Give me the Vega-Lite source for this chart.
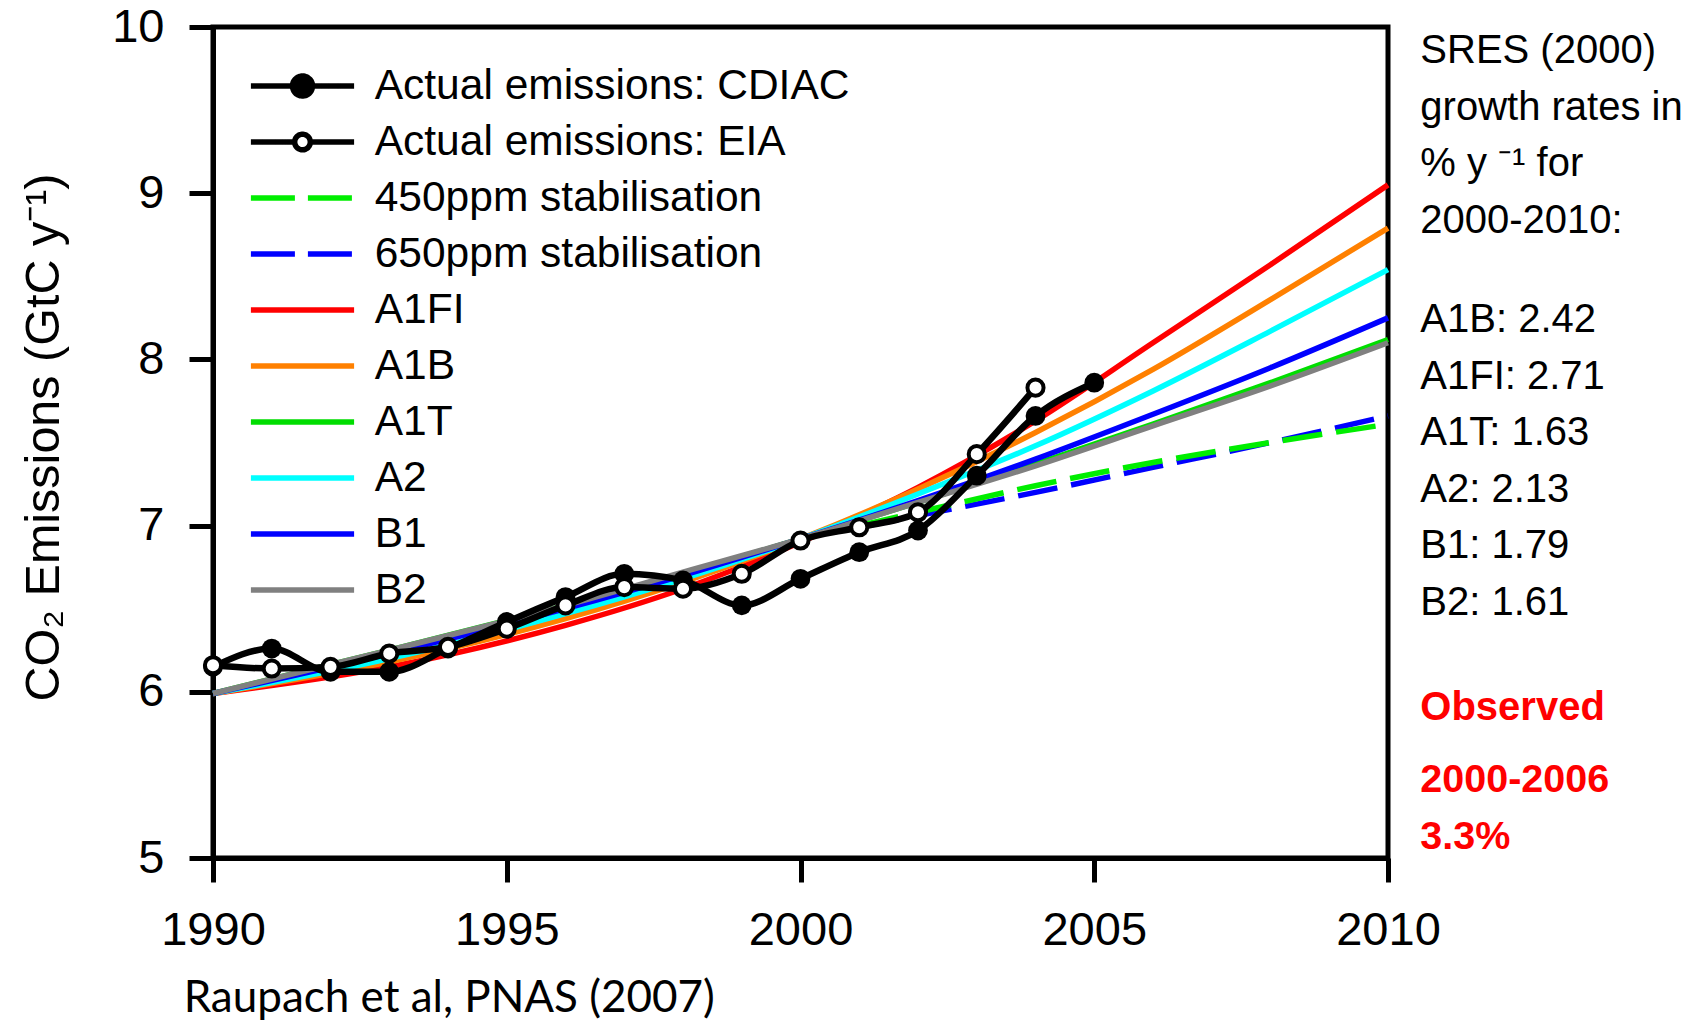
{
  "$schema": "https://vega.github.io/schema/vega-lite/v6.json",
  "autosize": {"type": "none"},
  "padding": {"left": 213, "top": 27, "right": 305, "bottom": 162},
  "width": 1175,
  "height": 831,
  "background": "white",
  "config": {
    "view": {"stroke": "black", "strokeWidth": 5},
    "font": "Liberation Sans",
    "axis": {
      "domainColor": "black", "domainWidth": 5, "tickColor": "black", "tickWidth": 5, "tickSize": 24,
      "labelColor": "black", "labelFont": "Liberation Sans", "labelFontSize": 47, "grid": false,
      "titleFont": "Liberation Sans", "titleColor": "black", "titleFontWeight": "normal", "titleFontSize": 48.5
    },
    "legend": {
      "orient": "none", "legendX": 35, "legendY": 36, "padding": 0,
      "labelFont": "Liberation Sans", "labelFontSize": 42.5, "labelColor": "black", "labelLimit": 1000,
      "symbolSize": 1600, "symbolStrokeWidth": 5.5, "symbolOffset": 31.5, "labelOffset": 49.2, "rowPadding": 11
    }
  },
  "datasets": {
    "series": [
      {"s": "A1FI", "x": 1990, "y": 5.99}, {"s": "A1FI", "x": 1993, "y": 6.15}, {"s": "A1FI", "x": 1996, "y": 6.40}, {"s": "A1FI", "x": 1998, "y": 6.62}, {"s": "A1FI", "x": 2000, "y": 6.90}, {"s": "A1FI", "x": 2002, "y": 7.23}, {"s": "A1FI", "x": 2004, "y": 7.63}, {"s": "A1FI", "x": 2006, "y": 8.10}, {"s": "A1FI", "x": 2008, "y": 8.57}, {"s": "A1FI", "x": 2010, "y": 9.05},
      {"s": "A1B", "x": 1990, "y": 5.99}, {"s": "A1B", "x": 1993, "y": 6.18}, {"s": "A1B", "x": 1996, "y": 6.44}, {"s": "A1B", "x": 1998, "y": 6.66}, {"s": "A1B", "x": 2000, "y": 6.92}, {"s": "A1B", "x": 2002, "y": 7.22}, {"s": "A1B", "x": 2004, "y": 7.56}, {"s": "A1B", "x": 2006, "y": 7.94}, {"s": "A1B", "x": 2008, "y": 8.36}, {"s": "A1B", "x": 2010, "y": 8.79},
      {"s": "A1T", "x": 1990, "y": 5.99}, {"s": "A1T", "x": 1993, "y": 6.25}, {"s": "A1T", "x": 1996, "y": 6.52}, {"s": "A1T", "x": 1998, "y": 6.71}, {"s": "A1T", "x": 2000, "y": 6.92}, {"s": "A1T", "x": 2002, "y": 7.14}, {"s": "A1T", "x": 2004, "y": 7.37}, {"s": "A1T", "x": 2006, "y": 7.61}, {"s": "A1T", "x": 2008, "y": 7.86}, {"s": "A1T", "x": 2010, "y": 8.12},
      {"s": "A2", "x": 1990, "y": 5.99}, {"s": "A2", "x": 1993, "y": 6.20}, {"s": "A2", "x": 1996, "y": 6.47}, {"s": "A2", "x": 1998, "y": 6.68}, {"s": "A2", "x": 2000, "y": 6.92}, {"s": "A2", "x": 2002, "y": 7.19}, {"s": "A2", "x": 2004, "y": 7.48}, {"s": "A2", "x": 2006, "y": 7.81}, {"s": "A2", "x": 2008, "y": 8.17}, {"s": "A2", "x": 2010, "y": 8.54},
      {"s": "B1", "x": 1990, "y": 5.99}, {"s": "B1", "x": 1993, "y": 6.23}, {"s": "B1", "x": 1996, "y": 6.50}, {"s": "B1", "x": 1998, "y": 6.70}, {"s": "B1", "x": 2000, "y": 6.92}, {"s": "B1", "x": 2002, "y": 7.15}, {"s": "B1", "x": 2004, "y": 7.40}, {"s": "B1", "x": 2006, "y": 7.67}, {"s": "B1", "x": 2008, "y": 7.95}, {"s": "B1", "x": 2010, "y": 8.25},
      {"s": "B2", "x": 1990, "y": 5.99}, {"s": "B2", "x": 1993, "y": 6.25}, {"s": "B2", "x": 1996, "y": 6.52}, {"s": "B2", "x": 1998, "y": 6.72}, {"s": "B2", "x": 2000, "y": 6.92}, {"s": "B2", "x": 2002, "y": 7.14}, {"s": "B2", "x": 2004, "y": 7.36}, {"s": "B2", "x": 2006, "y": 7.60}, {"s": "B2", "x": 2008, "y": 7.84}, {"s": "B2", "x": 2010, "y": 8.10},
      {"s": "650ppm stabilisation", "x": 2001, "y": 6.99}, {"s": "650ppm stabilisation", "x": 2002, "y": 7.06}, {"s": "650ppm stabilisation", "x": 2004, "y": 7.20}, {"s": "650ppm stabilisation", "x": 2006, "y": 7.35}, {"s": "650ppm stabilisation", "x": 2008, "y": 7.50}, {"s": "650ppm stabilisation", "x": 2010, "y": 7.66},
      {"s": "450ppm stabilisation", "x": 2001, "y": 7.00}, {"s": "450ppm stabilisation", "x": 2002, "y": 7.08}, {"s": "450ppm stabilisation", "x": 2004, "y": 7.24}, {"s": "450ppm stabilisation", "x": 2006, "y": 7.38}, {"s": "450ppm stabilisation", "x": 2008, "y": 7.50}, {"s": "450ppm stabilisation", "x": 2010, "y": 7.61},
      {"s": "Actual emissions: CDIAC", "x": 1990, "y": 6.15}, {"s": "Actual emissions: CDIAC", "x": 1991, "y": 6.26}, {"s": "Actual emissions: CDIAC", "x": 1992, "y": 6.12}, {"s": "Actual emissions: CDIAC", "x": 1993, "y": 6.12}, {"s": "Actual emissions: CDIAC", "x": 1994, "y": 6.26}, {"s": "Actual emissions: CDIAC", "x": 1995, "y": 6.42}, {"s": "Actual emissions: CDIAC", "x": 1996, "y": 6.57}, {"s": "Actual emissions: CDIAC", "x": 1997, "y": 6.71}, {"s": "Actual emissions: CDIAC", "x": 1998, "y": 6.67}, {"s": "Actual emissions: CDIAC", "x": 1999, "y": 6.52}, {"s": "Actual emissions: CDIAC", "x": 2000, "y": 6.68}, {"s": "Actual emissions: CDIAC", "x": 2001, "y": 6.84}, {"s": "Actual emissions: CDIAC", "x": 2002, "y": 6.97}, {"s": "Actual emissions: CDIAC", "x": 2003, "y": 7.30}, {"s": "Actual emissions: CDIAC", "x": 2004, "y": 7.66}, {"s": "Actual emissions: CDIAC", "x": 2005, "y": 7.86},
      {"s": "Actual emissions: EIA", "x": 1990, "y": 6.16}, {"s": "Actual emissions: EIA", "x": 1991, "y": 6.14}, {"s": "Actual emissions: EIA", "x": 1992, "y": 6.15}, {"s": "Actual emissions: EIA", "x": 1993, "y": 6.23}, {"s": "Actual emissions: EIA", "x": 1994, "y": 6.27}, {"s": "Actual emissions: EIA", "x": 1995, "y": 6.38}, {"s": "Actual emissions: EIA", "x": 1996, "y": 6.52}, {"s": "Actual emissions: EIA", "x": 1997, "y": 6.63}, {"s": "Actual emissions: EIA", "x": 1998, "y": 6.62}, {"s": "Actual emissions: EIA", "x": 1999, "y": 6.71}, {"s": "Actual emissions: EIA", "x": 2000, "y": 6.91}, {"s": "Actual emissions: EIA", "x": 2001, "y": 6.99}, {"s": "Actual emissions: EIA", "x": 2002, "y": 7.08}, {"s": "Actual emissions: EIA", "x": 2003, "y": 7.43}, {"s": "Actual emissions: EIA", "x": 2004, "y": 7.83}
    ]
  },
  "layer": [
    {
      "data": {"name": "series"},
      "transform": [{"filter": {"field": "s", "oneOf": ["A1FI", "A1B", "A1T", "A2", "B1", "B2"]}}],
      "mark": {"type": "line", "strokeWidth": 5.5, "interpolate": "monotone"},
      "encoding": {
        "x": {"field": "x", "type": "quantitative", "scale": {"domain": [1990, 2010], "nice": false, "zero": false},
              "axis": {"values": [1990, 1995, 2000, 2005, 2010], "format": "d", "title": null, "labelPadding": 25, "labelFlush": false, "labelOverlap": false}},
        "y": {"field": "y", "type": "quantitative", "scale": {"domain": [5, 10], "nice": false, "zero": false},
              "axis": {"values": [5, 6, 7, 8, 9, 10], "format": "d", "title": "CO₂ Emissions (GtC y⁻¹)", "titleX": -170, "titleY": 410, "titleAngle": -90, "titleAlign": "center", "titleBaseline": "middle", "labelPadding": 25, "labelFlush": false, "labelOverlap": false}},
        "color": {"field": "s", "type": "nominal",
          "scale": {"domain": ["Actual emissions: CDIAC", "Actual emissions: EIA", "450ppm stabilisation", "650ppm stabilisation", "A1FI", "A1B", "A1T", "A2", "B1", "B2"],
                    "range": ["#000000", "#000000", "#00EE00", "#0000FF", "#FF0000", "#FF8000", "#00DD00", "#00FFFF", "#0000FF", "#808080"]},
          "legend": {"title": null,
            "encode": {"symbols": {"update": {
              "shape": {"signal": "datum.value === 'Actual emissions: CDIAC' ? 'M-2.58,0H2.58M0.5,0A0.5,0.5,0,1,1,-0.5,0A0.5,0.5,0,1,1,0.5,0' : datum.value === 'Actual emissions: EIA' ? 'M-2.58,0H-0.39M0.39,0H2.58M0.39,0A0.39,0.39,0,1,1,-0.39,0A0.39,0.39,0,1,1,0.39,0' : 'M-2.58,0H2.58'"},
              "fill": {"signal": "datum.value === 'Actual emissions: CDIAC' ? '#000000' : datum.value === 'Actual emissions: EIA' ? '#ffffff' : 'transparent'"},
              "strokeDash": {"signal": "indexof(datum.value, 'ppm') >= 0 ? [44, 13] : [1, 0]"},
              "strokeWidth": {"value": 5.5}
            }}}
          }
        }
      }
    },
    {
      "data": {"name": "series"},
      "transform": [{"filter": {"field": "s", "oneOf": ["650ppm stabilisation", "450ppm stabilisation"]}}],
      "mark": {"type": "line", "strokeWidth": 5.5, "strokeDash": [40, 14], "interpolate": "monotone"},
      "encoding": {
        "x": {"field": "x", "type": "quantitative", "scale": {"domain": [1990, 2010]}},
        "y": {"field": "y", "type": "quantitative", "scale": {"domain": [5, 10]}},
        "color": {"field": "s", "type": "nominal"}
      }
    },
    {
      "data": {"name": "series"},
      "transform": [{"filter": {"field": "s", "oneOf": ["Actual emissions: CDIAC", "Actual emissions: EIA"]}}],
      "mark": {"type": "line", "strokeWidth": 6.5, "interpolate": "monotone"},
      "encoding": {
        "x": {"field": "x", "type": "quantitative", "scale": {"domain": [1990, 2010]}},
        "y": {"field": "y", "type": "quantitative", "scale": {"domain": [5, 10]}},
        "color": {"field": "s", "type": "nominal"}
      }
    },
    {
      "data": {"name": "series"},
      "transform": [{"filter": {"field": "s", "equal": "Actual emissions: CDIAC"}}],
      "mark": {"type": "point", "shape": "circle", "filled": true, "fill": "#000000", "stroke": "#000000", "strokeWidth": 0, "size": 390, "opacity": 1},
      "encoding": {
        "x": {"field": "x", "type": "quantitative", "scale": {"domain": [1990, 2010]}},
        "y": {"field": "y", "type": "quantitative", "scale": {"domain": [5, 10]}}
      }
    },
    {
      "data": {"name": "series"},
      "transform": [{"filter": {"field": "s", "equal": "Actual emissions: EIA"}}],
      "mark": {"type": "point", "shape": "circle", "filled": false, "fill": "#ffffff", "stroke": "#000000", "strokeWidth": 4, "size": 260, "opacity": 1, "fillOpacity": 1},
      "encoding": {
        "x": {"field": "x", "type": "quantitative", "scale": {"domain": [1990, 2010]}},
        "y": {"field": "y", "type": "quantitative", "scale": {"domain": [5, 10]}}
      }
    },
    {
      "data": {"values": [{}]},
      "mark": {"type": "text", "text": ["SRES (2000)", "growth rates in", "% y ⁻¹ for", "2000-2010:"], "align": "left", "baseline": "alphabetic", "font": "Liberation Sans", "fontSize": 40, "lineHeight": 56.6, "color": "#000000"},
      "encoding": {
        "x": {"datum": 2010.55, "type": "quantitative", "scale": {"domain": [1990, 2010]}},
        "y": {"datum": 9.783, "type": "quantitative", "scale": {"domain": [5, 10]}}
      }
    },
    {
      "data": {"values": [{}]},
      "mark": {"type": "text", "text": ["A1B: 2.42", "A1FI: 2.71", "A1T: 1.63", "A2: 2.13", "B1: 1.79", "B2: 1.61"], "align": "left", "baseline": "alphabetic", "font": "Liberation Sans", "fontSize": 40, "lineHeight": 56.5, "color": "#000000"},
      "encoding": {
        "x": {"datum": 2010.55, "type": "quantitative", "scale": {"domain": [1990, 2010]}},
        "y": {"datum": 8.162, "type": "quantitative", "scale": {"domain": [5, 10]}}
      }
    },
    {
      "data": {"values": [{}]},
      "mark": {"type": "text", "text": "Observed", "align": "left", "baseline": "alphabetic", "font": "Liberation Sans", "fontWeight": "bold", "fontSize": 40, "color": "#FF0000"},
      "encoding": {
        "x": {"datum": 2010.55, "type": "quantitative", "scale": {"domain": [1990, 2010]}},
        "y": {"datum": 5.83, "type": "quantitative", "scale": {"domain": [5, 10]}}
      }
    },
    {
      "data": {"values": [{}]},
      "mark": {"type": "text", "text": ["2000-2006", "3.3%"], "align": "left", "baseline": "alphabetic", "font": "Liberation Sans", "fontWeight": "bold", "fontSize": 39.5, "lineHeight": 57, "color": "#FF0000"},
      "encoding": {
        "x": {"datum": 2010.55, "type": "quantitative", "scale": {"domain": [1990, 2010]}},
        "y": {"datum": 5.397, "type": "quantitative", "scale": {"domain": [5, 10]}}
      }
    },
    {
      "data": {"values": [{}]},
      "mark": {"type": "text", "text": "Raupach et al, PNAS (2007)", "align": "left", "baseline": "alphabetic", "font": "Lato", "fontSize": 44, "color": "#000000"},
      "encoding": {
        "x": {"datum": 1989.5, "type": "quantitative", "scale": {"domain": [1990, 2010]}},
        "y": {"datum": 4.072, "type": "quantitative", "scale": {"domain": [5, 10]}}
      }
    }
  ]
}
